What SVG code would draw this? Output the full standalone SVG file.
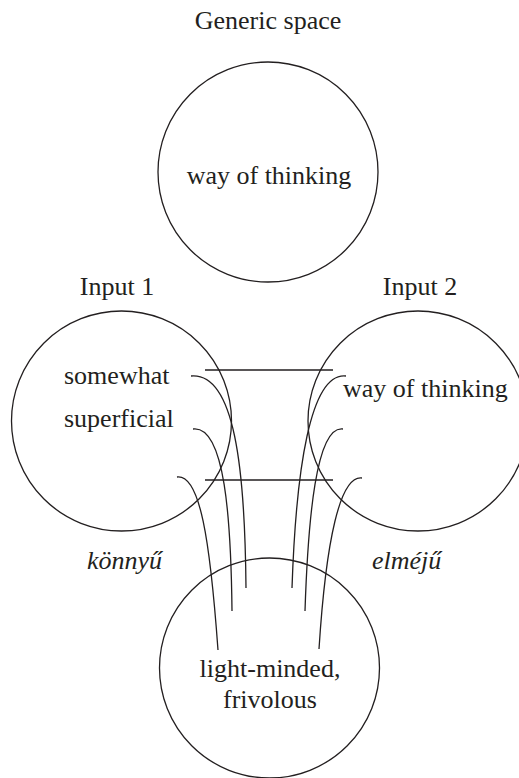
<svg xmlns="http://www.w3.org/2000/svg" width="519" height="778" viewBox="0 0 519 778">
<style>
.c{fill:none;stroke:#231f20;stroke-width:1.3}
.l{fill:none;stroke:#231f20;stroke-width:1.3}
.t{font-size:26px;fill:#231f20}
.m{text-anchor:middle}
.i{font-style:italic}
</style>
<rect width="519" height="778" fill="#fff"/>
<g font-family="Liberation Serif">
<g id="generic">
<text class="t m" x="268" y="29">Generic space</text>
<circle class="c" cx="268" cy="172" r="110"/>
<text class="t m" x="269" y="184">way of thinking</text>
</g>
<g id="input1">
<text class="t m" x="117" y="295">Input 1</text>
<circle class="c" cx="121.5" cy="421" r="110"/>
<text class="t" x="64" y="384">somewhat</text>
<text class="t" x="64" y="427">superficial</text>
</g>
<g id="input2">
<text class="t m" x="420" y="295">Input 2</text>
<circle class="c" cx="418" cy="421" r="110"/>
<text class="t" x="343" y="397">way of thinking</text>
</g>
<g id="blend">
<circle class="c" cx="269.5" cy="668" r="110"/>
<text class="t m" x="270" y="677">light-minded,</text>
<text class="t m" x="270" y="708">frivolous</text>
</g>
<g id="labels">
<text class="t i" x="87" y="569">könnyű</text>
<text class="t i" x="372" y="569">elméjű</text>
</g>
</g>
<g id="connectors">
<path class="l" d="M205,370 H333 M205,480 H333"/>
<path class="l" d="M191,376 C235,372 245,470 246,588"/>
<path class="l" d="M193,429 C225,425 231,520 232,611"/>
<path class="l" d="M177,477 C200,474 210,540 218,650"/>
<path class="l" d="M346,376 C310,372 296,470 292,588"/>
<path class="l" d="M343,429 C316,425 308,520 305,611"/>
<path class="l" d="M362,478 C340,475 326,540 319,649"/>
</g>
</svg>
